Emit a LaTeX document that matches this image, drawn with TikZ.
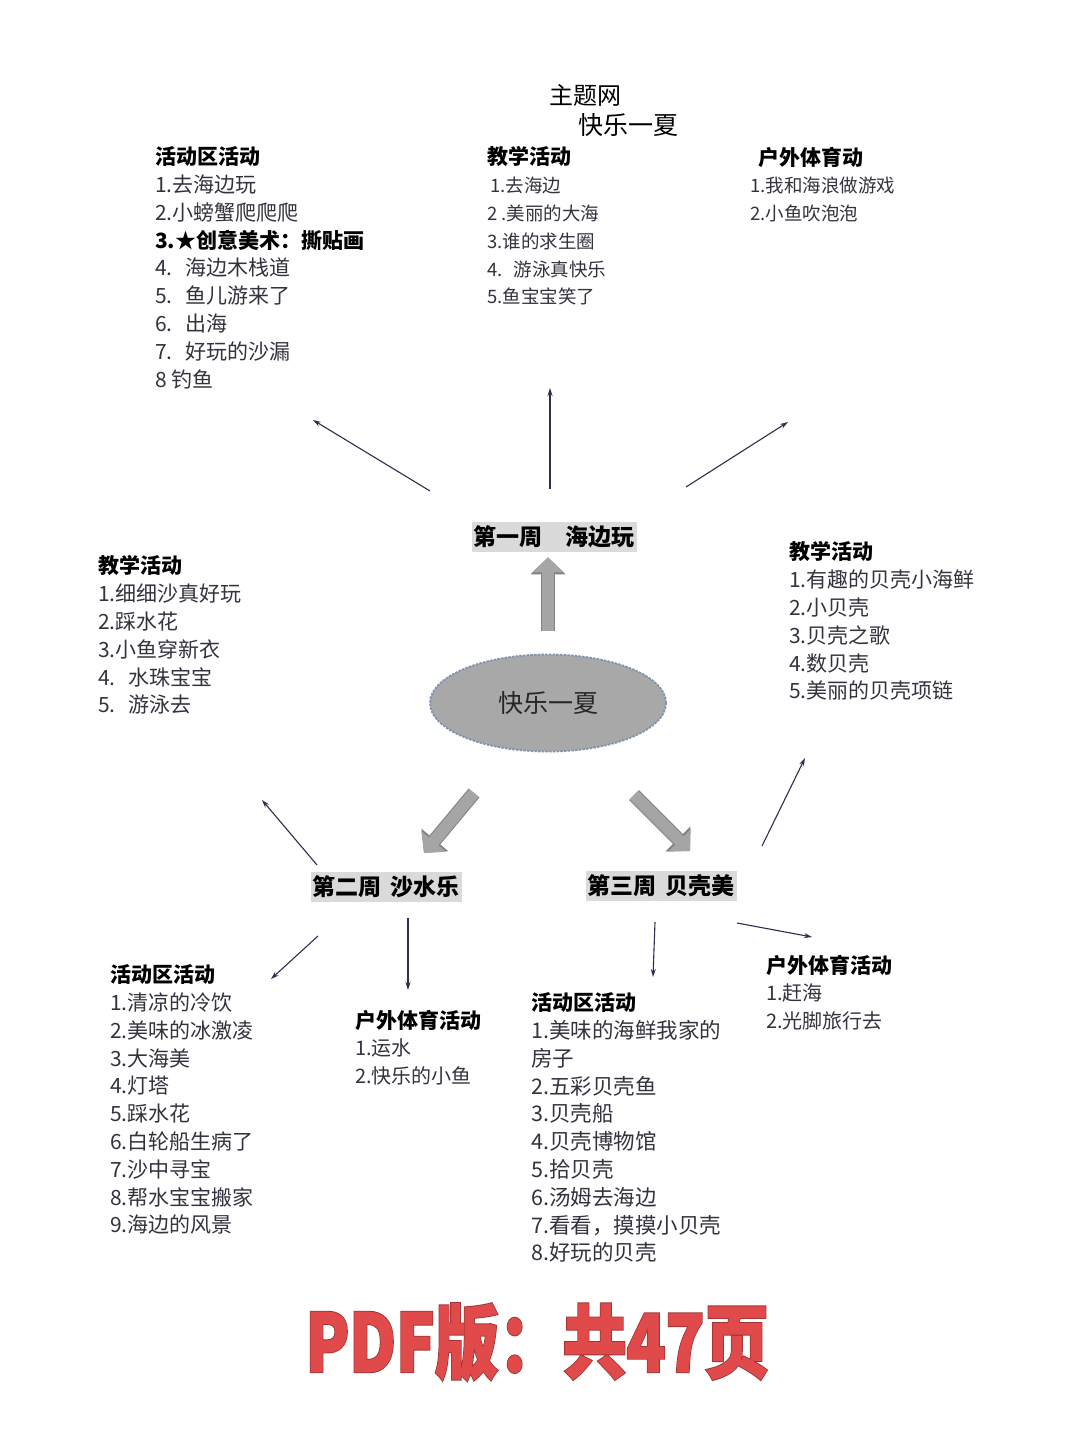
\documentclass[tikz,border=0pt]{standalone}
\usepackage{fontspec}
\setmainfont{Noto Sans CJK SC}
\newfontfamily\bannerfont{Noto Sans CJK SC}[BoldFeatures={FakeBold=1.2}]
\newfontfamily\bannerbackfont{Noto Sans CJK SC}[BoldFeatures={FakeBold=3.5}]
\usetikzlibrary{shapes,arrows,arrows.meta,calc}

\definecolor{listgray}{HTML}{33333F}
\definecolor{linkblue}{HTML}{2E2E4E}
\definecolor{weekgray}{HTML}{DADADA}
\definecolor{hubgray}{HTML}{A8A8A8}
\definecolor{hubedge}{HTML}{7F92AE}
\definecolor{fatgray}{HTML}{A5A5A5}
\definecolor{fatedge}{HTML}{828282}
\definecolor{bannerred}{HTML}{E04A4A}
\definecolor{bannerdark}{HTML}{A03434}

\newcommand{\headline}[1]{{\fontsize{21}{27.8}\selectfont\bfseries\color{black}#1}}

\tikzset{
  listbox/.style={anchor=north west,inner sep=0pt,align=left,text=listgray,
    font=\fontsize{21}{27.8}\selectfont},
  smalllist/.style={listbox,font=\fontsize{18.5}{27.8}\selectfont},
  week/.style={fill=weekgray,text=black,inner xsep=2pt,inner ysep=4pt,
    font=\fontsize{23}{23}\selectfont\bfseries},
  hub/.style={ellipse,fill=hubgray,draw=hubedge,line width=1.8pt,
    dash pattern=on 2.5pt off 1.2pt,minimum width=236pt,minimum height=97pt,
    inner sep=0pt,text=black!85,font=\fontsize{25}{25}\selectfont},
  link/.style={draw=linkblue,line width=1.1pt,-{Stealth[length=8pt,width=5pt]}},
  fatarrow/.style={line width=12pt,draw=fatgray,-{Triangle[length=15pt,width=31pt]},
    preaction={draw=fatedge,line width=14pt,-{Triangle[length=17pt,width=34pt]}}}
}

\begin{document}
\begin{tikzpicture}[x=1pt,y=-1pt]
  \useasboundingbox[fill=white] (0,0) rectangle (1080,1439);

  % title
  \node[font=\fontsize{24}{24}\selectfont] (title1) at (585,95) {主题网};
  \node[font=\fontsize{25}{25}\selectfont] (title2) at (628,125) {快乐一夏};

  % centre and weeks
  \node[hub] (hub) at (548,703) {快乐一夏};
  \node[week] (wk1) at (554,537) {第一周　海边玩};
  \node[week] (wk2) at (386,887) {第二周\hspace{9pt}沙水乐};
  \node[week] (wk3) at (661,886) {第三周\hspace{9pt}贝壳美};

  \draw[fatarrow] ([yshift=23pt]hub.north) -- ([yshift=-5pt]wk1.south -| hub.north);
  \draw[fatarrow] ($(hub.center)+(-74,90)$) -- ($(hub.center)+(-124,150)$);
  \draw[fatarrow] ($(hub.center)+(86,92)$) -- ($(hub.center)+(142,148)$);

  % week 1 lists
  \node[listbox] (w1act) at (155,146.5) {\headline{活动区活动}\\
    1.去海边玩\\
    2.小螃蟹爬爬爬\\
    \textbf{\color{black}3.★创意美术：撕贴画}\\
    4.\hspace{0.6em}海边木栈道\\
    5.\hspace{0.6em}鱼儿游来了\\
    6.\hspace{0.6em}出海\\
    7.\hspace{0.6em}好玩的沙漏\\
    8 钓鱼};
  \node[smalllist] (w1teach) at (487,146.5) {\headline{教学活动}\\
    \hspace{3pt}1.去海边\\
    2 .美丽的大海\\
    3.谁的求生圈\\
    4.\hspace{0.6em}游泳真快乐\\
    5.鱼宝宝笑了};
  \node[smalllist] (w1sport) at (750,146.5) {\hspace{8pt}\headline{户外体育动}\\
    1.我和海浪做游戏\\
    2.小鱼吹泡泡};

  \coordinate (l1a) at (430,491);
  \coordinate (l1b) at (313,420);
  \coordinate (l2a) at (550,489);
  \coordinate (l2b) at (550,388);
  \coordinate (l3a) at (686,487);
  \coordinate (l3b) at (788,422);
  \draw[link] (l1a) -- (l1b);
  \draw[link] (l2a) -- (l2b);
  \draw[link] (l3a) -- (l3b);

  % week 2 lists
  \node[listbox] (w2teach) at (98,555.5) {\headline{教学活动}\\
    1.细细沙真好玩\\
    2.踩水花\\
    3.小鱼穿新衣\\
    4.\hspace{0.6em}水珠宝宝\\
    5.\hspace{0.6em}游泳去};
  \node[listbox] (w2act) at (110,964.5) {\headline{活动区活动}\\
    1.清凉的冷饮\\
    2.美味的冰激凌\\
    3.大海美\\
    4.灯塔\\
    5.踩水花\\
    6.白轮船生病了\\
    7.沙中寻宝\\
    8.帮水宝宝搬家\\
    9.海边的风景};
  \node[listbox,font=\fontsize{20}{27.8}\selectfont] (w2sport) at (355,1009.5) {\headline{户外体育活动}\\
    1.运水\\
    2.快乐的小鱼};

  \coordinate (l4a) at (317,865);
  \coordinate (l4b) at (262,800);
  \coordinate (l5a) at (318,936);
  \coordinate (l5b) at (271,979);
  \coordinate (l6a) at (408,918);
  \coordinate (l6b) at (408,990);
  \draw[link] (l4a) -- (l4b);
  \draw[link] (l5a) -- (l5b);
  \draw[link] (l6a) -- (l6b);

  % week 3 lists
  \node[listbox] (w3teach) at (789,541.5) {\headline{教学活动}\\
    1.有趣的贝壳小海鲜\\
    2.小贝壳\\
    3.贝壳之歌\\
    4.数贝壳\\
    5.美丽的贝壳项链};
  \node[listbox,font=\fontsize{21.5}{27.8}\selectfont] (w3act) at (531,992.5) {\headline{活动区活动}\\
    1.美味的海鲜我家的\\
    房子\\
    2.五彩贝壳鱼\\
    3.贝壳船\\
    4.贝壳博物馆\\
    5.拾贝壳\\
    6.汤姆去海边\\
    7.看看，摸摸小贝壳\\
    8.好玩的贝壳};
  \node[listbox,font=\fontsize{20}{27.8}\selectfont] (w3sport) at (766,954.5) {\headline{户外体育活动}\\
    1.赶海\\
    2.光脚旅行去};

  \coordinate (l7a) at (655,922);
  \coordinate (l7b) at (653,977);
  \coordinate (l8a) at (737,923);
  \coordinate (l8b) at (812,937);
  \coordinate (l9a) at (762,846);
  \coordinate (l9b) at (805,758);
  \draw[link] (l7a) -- (l7b);
  \draw[link] (l8a) -- (l8b);
  \draw[link] (l9a) -- (l9b);

  % banner
  \node[text=bannerdark,font=\bannerbackfont\bfseries\fontsize{80}{80}\selectfont] (bannerback) at (537,1342) {\scalebox{0.8}[1]{PDF版：共47页}};
  \node[text=bannerred,font=\bannerfont\bfseries\fontsize{80}{80}\selectfont] (banner) at (bannerback) {\scalebox{0.8}[1]{PDF版：共47页}};
\end{tikzpicture}
\end{document}
